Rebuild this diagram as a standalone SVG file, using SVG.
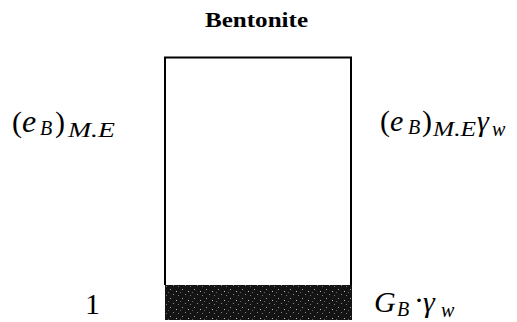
<svg xmlns="http://www.w3.org/2000/svg" width="517" height="322" viewBox="0 0 517 322">
<style>
text{font-family:'Liberation Serif','Times New Roman',serif;fill:#000}
.i{font-style:italic}
.m{font-size:30px}
.s{font-size:20px}
.line{stroke:#000;stroke-width:2;fill:none}
</style>
<defs>
<pattern id="speck" width="12" height="9" patternUnits="userSpaceOnUse">
<rect width="12" height="9" fill="#141414"/>
<rect x="2" y="1" width="1" height="1" fill="#9a9a9a"/>
<rect x="8" y="3" width="1" height="1" fill="#bdbdbd"/>
<rect x="5" y="6" width="1" height="1" fill="#888"/>
<rect x="10" y="7" width="1" height="1" fill="#777"/>
<rect x="0" y="4" width="1" height="1" fill="#666"/>
</pattern>
</defs>
<rect width="517" height="322" fill="#fff"/>
<g id="title">
<text x="205" y="27" font-size="20" font-weight="bold" textLength="103" lengthAdjust="spacingAndGlyphs">Bentonite</text>
</g>
<g id="container">
<path class="line" d="M165,285 V57.5 H351 V285"/>
</g>
<g id="solids">
<rect x="165" y="285" width="187" height="35" fill="url(#speck)"/>
</g>
<g id="left-void">
<text class="m" x="12" y="132">(</text>
<text class="i" x="22" y="132" font-size="32">e</text>
<text class="i s" x="40" y="135">B</text>
<text class="m" x="55" y="132">)</text>
<text class="i s" x="68" y="137" textLength="47" lengthAdjust="spacingAndGlyphs">M.E</text>
</g>
<g id="right-void">
<text class="m" x="380" y="131">(</text>
<text class="i" x="390" y="131" font-size="30">e</text>
<text class="i s" x="408" y="134">B</text>
<text class="m" x="422" y="131">)</text>
<text class="i s" x="433" y="136" textLength="43" lengthAdjust="spacingAndGlyphs">M.E</text>
<text class="i m" x="477" y="131">γ</text>
<text class="i s" x="492" y="136">w</text>
</g>
<g id="left-solid">
<text x="85" y="314" font-size="30">1</text>
</g>
<g id="right-solid">
<text class="i m" x="374" y="312">G</text>
<text class="i s" x="397" y="316">B</text>
<text class="m" x="414" y="310">·</text>
<text class="i m" x="423" y="312">γ</text>
<text class="i s" x="441" y="317">w</text>
</g>
</svg>
